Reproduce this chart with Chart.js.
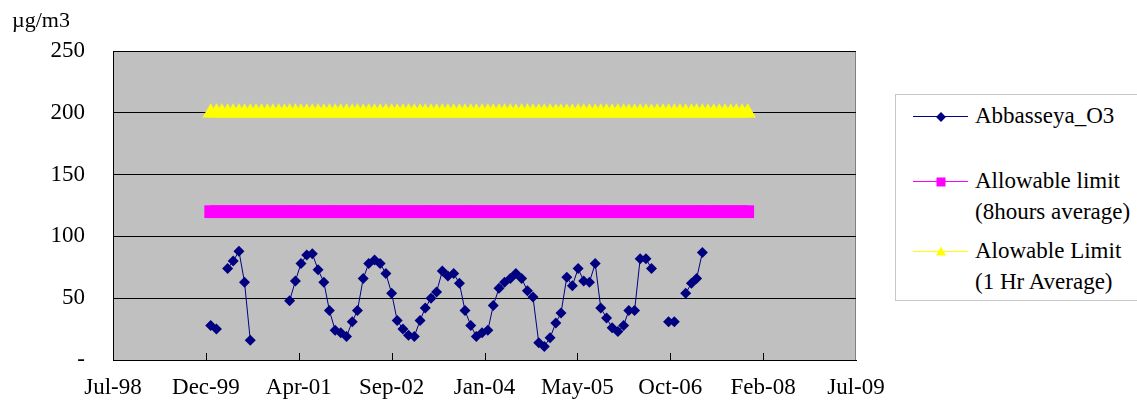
<!DOCTYPE html>
<html>
<head>
<meta charset="utf-8">
<script src="https://cdn.jsdelivr.net/npm/chart.js@4.4.1/dist/chart.umd.min.js"></script>
<style>
  body { margin: 0; background: #fff; }
  #wrap { position: relative; width: 1137px; height: 410px; overflow: hidden;
          font-family: "Liberation Serif", "Times New Roman", serif; color: #000; }
  #unit { position: absolute; left: 12px; top: 7px; font-size: 22px; }
  #legend { position: absolute; left: 895px; top: 94px; width: 260px; height: 207px;
            border: 1px solid #c8c8c8; box-sizing: border-box; background: #fff; }
  .sample { position: absolute; left: 17px; width: 55px; height: 0; border-top: 1px solid; }
  .mark { position: absolute; left: 50%; }
  .txt { position: absolute; left: 79px; font-size: 23px; line-height: 31px; white-space: nowrap; }
</style>
</head>
<body>
<div id="wrap">
  <canvas id="c" width="1137" height="410"></canvas>
  <div id="unit">µg/m3</div>
  <div id="legend">
    <div class="sample" style="top:21px;border-color:#000080">
      <div class="mark" style="width:7px;height:7px;background:#000080;transform:translate(-50%,-50%) rotate(45deg);top:0"></div>
    </div>
    <div class="txt" style="top:5px">Abbasseya_O3</div>

    <div class="sample" style="top:86px;border-color:#ff00ff">
      <div class="mark" style="width:9px;height:9px;background:#ff00ff;transform:translate(-50%,-50%);top:0"></div>
    </div>
    <div class="txt" style="top:70px">Allowable limit<br>(8hours average)</div>

    <div class="sample" style="top:156px;border-color:#ffff00">
      <div class="mark" style="width:0;height:0;border-left:5px solid transparent;border-right:5px solid transparent;border-bottom:9px solid #ffff00;transform:translate(-50%,-60%);top:0"></div>
    </div>
    <div class="txt" style="top:140px">Alowable Limit<br>(1 Hr Average)</div>
  </div>
</div>
<script>
// axis labels
var xTickLabels = ["Jul-98", "Dec-99", "Apr-01", "Sep-02", "Jan-04", "May-05", "Oct-06", "Feb-08", "Jul-09"];
var yTickLabels = ["-", "50", "100", "150", "200", "250"];

// monthly series, first value = Jan 2000
var startYear = 2000, startMonth = 1;

var o3 = [
  28, 25, null, 74, 80, 88, 63, 16, null, null, null, null,      // 2000
  null, null, 48, 64, 78, 85, 86, 73, 63, 40, 24, 22,            // 2001
  19, 31, 40, 66, 78, 81, 78, 70, 54, 32, 25, 20,                // 2002
  19, 32, 42, 50, 55, 72, 68, 70, 62, 40, 28, 19,                // 2003
  22, 24, 44, 58, 63, 66, 70, 66, 56, 51, 14, 11,                // 2004
  18, 30, 38, 67, 60, 74, 64, 63, 78, 42, 34, 26,                // 2005
  23, 28, 40, 40, 82, 82, 74, null, null, 31, 31, null,          // 2006
  54, 62, 66, 87                                                 // 2007
];

var limit8h = [
  120, 120, 120, 120, 120, 120, 120, 120, 120, 120, 120, 120,
  120, 120, 120, 120, 120, 120, 120, 120, 120, 120, 120, 120,
  120, 120, 120, 120, 120, 120, 120, 120, 120, 120, 120, 120,
  120, 120, 120, 120, 120, 120, 120, 120, 120, 120, 120, 120,
  120, 120, 120, 120, 120, 120, 120, 120, 120, 120, 120, 120,
  120, 120, 120, 120, 120, 120, 120, 120, 120, 120, 120, 120,
  120, 120, 120, 120, 120, 120, 120, 120, 120, 120, 120, 120,
  120, 120, 120, 120, 120, 120, 120, 120, 120, 120, 120, 120
];

var limit1h = [
  200, 200, 200, 200, 200, 200, 200, 200, 200, 200, 200, 200,
  200, 200, 200, 200, 200, 200, 200, 200, 200, 200, 200, 200,
  200, 200, 200, 200, 200, 200, 200, 200, 200, 200, 200, 200,
  200, 200, 200, 200, 200, 200, 200, 200, 200, 200, 200, 200,
  200, 200, 200, 200, 200, 200, 200, 200, 200, 200, 200, 200,
  200, 200, 200, 200, 200, 200, 200, 200, 200, 200, 200, 200,
  200, 200, 200, 200, 200, 200, 200, 200, 200, 200, 200, 200,
  200, 200, 200, 200, 200, 200, 200, 200, 200, 200, 200, 200
];

// excel style day number for the 1st of the i-th month
function monthSerial(i) {
  return (Date.UTC(startYear, startMonth - 1 + i, 1) - Date.UTC(1899, 11, 30)) / 86400000;
}
function toPoints(values) {
  return values.map(function(v, i) { return {x: monthSerial(i), y: v}; });
}

var serifFont = {family: "'Liberation Serif', 'Times New Roman', serif", size: 23};

// gray plot area + inside tick marks on the date axis
var plotArea = {
  id: "plotArea",
  beforeDraw: function(chart) {
    var a = chart.chartArea, ctx = chart.ctx;
    ctx.save();
    ctx.fillStyle = "#c0c0c0";
    ctx.fillRect(a.left, a.top, a.right - a.left, a.bottom - a.top);
    ctx.strokeStyle = "#808080";
    ctx.lineWidth = 1;
    ctx.strokeRect(a.left + 0.5, a.top + 0.5, a.right - a.left - 1, a.bottom - a.top);
    ctx.restore();
  },
  beforeDatasetsDraw: function(chart) {
    var sx = chart.scales.x, a = chart.chartArea, ctx = chart.ctx;
    ctx.save();
    ctx.strokeStyle = "#000";
    ctx.lineWidth = 1;
    sx.ticks.forEach(function(t, i) {
      if (i === 0 || i === sx.ticks.length - 1) return;
      var px = Math.round(sx.getPixelForValue(t.value)) + 0.5;
      ctx.beginPath();
      ctx.moveTo(px, a.bottom);
      ctx.lineTo(px, a.bottom - 7);
      ctx.stroke();
    });
    ctx.restore();
  }
};

new Chart("c", {
  type: "line",
  data: {
    datasets: [{
      label: "Abbasseya_O3",
      data: toPoints(o3),
      borderColor: "#000080",
      backgroundColor: "#000080",
      borderWidth: 1,
      pointStyle: "rectRot",
      pointRadius: 5.5,
      pointBorderWidth: 0,
      tension: 0
    }, {
      label: "Allowable limit (8hours average)",
      data: toPoints(limit8h),
      borderColor: "#ff00ff",
      backgroundColor: "#ff00ff",
      borderWidth: 1,
      pointStyle: "rect",
      pointRadius: 9,
      pointBorderWidth: 0
    }, {
      label: "Alowable Limit (1 Hr Average)",
      data: toPoints(limit1h),
      borderColor: "#ffff00",
      backgroundColor: "#ffff00",
      borderWidth: 1,
      pointStyle: "triangle",
      pointRadius: 9.5,
      pointBorderWidth: 0
    }]
  },
  options: {
    responsive: false,
    animation: false,
    layout: {padding: {top: 51, right: 281, left: 0, bottom: 0}},
    plugins: {legend: {display: false}, tooltip: {enabled: false}},
    scales: {
      x: {
        type: "linear",
        min: 36000,
        max: 40000,
        afterFit: function(s) { s.height = 50; },
        grid: {display: false, drawTicks: false},
        border: {display: true, color: "#000", width: 1},
        ticks: {
          stepSize: 500,
          autoSkip: false,
          maxRotation: 0,
          padding: 14,
          color: "#000",
          font: serifFont,
          callback: function(v, i) { return xTickLabels[i]; }
        }
      },
      y: {
        min: 0,
        max: 250,
        afterFit: function(s) { s.width = 113; },
        grid: {color: "#000", lineWidth: 1, drawTicks: false},
        border: {display: true, color: "#000", width: 1},
        ticks: {
          stepSize: 50,
          padding: 28,
          color: "#000",
          font: serifFont,
          callback: function(v, i) { return yTickLabels[i]; }
        }
      }
    }
  },
  plugins: [plotArea]
});
</script>
</body>
</html>
